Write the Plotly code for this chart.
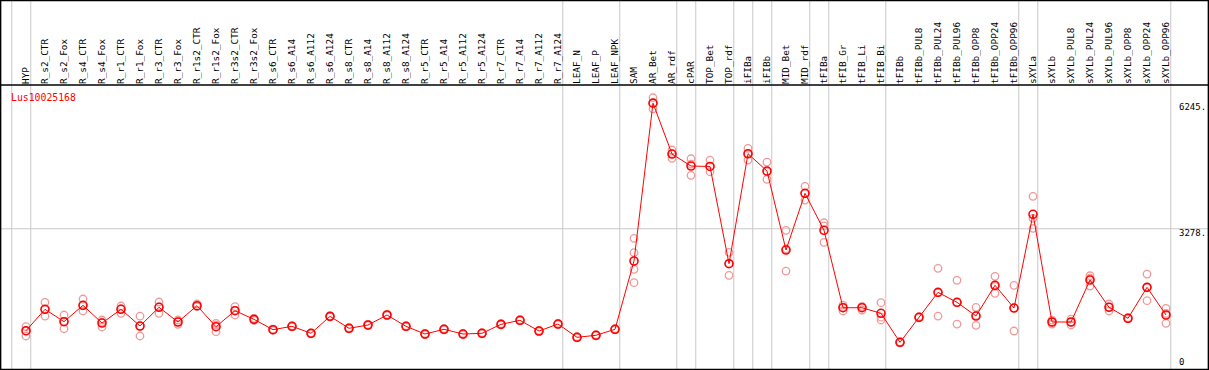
import plotly.graph_objects as go

categories = ["HYP", "R_s2_CTR", "R_s2_Fox", "R_s4_CTR", "R_s4_Fox", "R_r1_CTR", "R_r1_Fox",
              "R_r3_CTR", "R_r3_Fox", "R_r1s2_CTR", "R_r1s2_Fox", "R_r3s2_CTR", "R_r3s2_Fox",
              "R_s6_CTR", "R_s6_A14", "R_s6_A112", "R_s6_A124", "R_s8_CTR", "R_s8_A14", "R_s8_A112",
              "R_s8_A124", "R_r5_CTR", "R_r5_A14", "R_r5_A112", "R_r5_A124", "R_r7_CTR", "R_r7_A14",
              "R_r7_A112", "R_r7_A124", "LEAF_N", "LEAF_P", "LEAF_NPK", "SAM", "AR_Bet", "AR_rdf",
              "cPAR", "TOP_Bet", "TOP_rdf", "iFIBa", "iFIBb", "MID_Bet", "MID_rdf", "tFIBa", "tFIB_Gr",
              "tFIB_Li", "tFIB_Bi", "tFIBb", "tFIBb_PUL8", "tFIBb_PUL24", "tFIBb_PUL96", "tFIBb_OPP8",
              "tFIBb_OPP24", "tFIBb_OPP96", "sXYLa", "sXYLb", "sXYLb_PUL8", "sXYLb_PUL24",
              "sXYLb_PUL96", "sXYLb_OPP8", "sXYLb_OPP24", "sXYLb_OPP96"]

mean_values = [869, 1375, 1082, 1469, 1051, 1375, 980, 1422, 1075, 1460, 964, 1342, 1138,
               893, 973, 808, 1209, 926, 1004, 1240, 973, 791, 902, 791, 808, 1020, 1115, 862, 1027,
               713, 761, 902, 2516, 6245, 5043, 4759, 4750, 2452, 5050, 4641, 2775, 4115, 3241,
               1412, 1412, 1280, 595, 1186, 1776, 1540, 1216, 1942, 1405,
               3619, 1075, 1075, 2067, 1422, 1162, 1894, 1240]

replicates = [
    [964, 862, 744], [1540, 1216, 1370], [1240, 916, 1090], [1618, 1335, 1460], [1122, 957, 1070],
    [1453, 1280, 1390], [1216, 744, 980], [1547, 1280, 1430], [1122, 1020, 1080], [1500, 1436, 1450],
    [1044, 846, 1000], [1436, 1240, 1350], [1162, 1115, 1140],
    [880, 905, 893], [960, 985, 973], [795, 820, 808], [1195, 1222, 1209], [912, 940, 926],
    [990, 1018, 1004], [1226, 1254, 1240], [960, 986, 973], [778, 804, 791], [888, 915, 902],
    [778, 804, 791], [795, 821, 808], [1006, 1034, 1020], [1101, 1129, 1115], [848, 876, 862],
    [1013, 1041, 1027], [700, 726, 713], [748, 774, 761], [888, 916, 902],
    [3052, 2712, 2319, 2003], [6373, 6250, 6112], [5138, 4941, 5050], [4932, 4540, 4805],
    [4901, 4625, 4750], [2721, 2178, 2457], [5177, 4901, 5050], [4854, 4445, 4625],
    [3241, 2279, 2805], [4280, 3956, 4110], [3420, 2957, 3346],
    [1476, 1335, 1425], [1358, 1440, 1438], [1531, 1122, 1190], [580, 595, 610],
    [1172, 1200, 1186], [2343, 1216, 1770], [2060, 1027, 1533], [1422, 997, 1230],
    [2154, 1753, 1920], [1942, 862, 1410],
    [4044, 3288, 3525], [1027, 1075, 1120], [1004, 1075, 1145], [2168, 1925, 2108],
    [1500, 1335, 1430], [1148, 1176, 1162], [2208, 1578, 1896], [1398, 1044, 1278],
]

group_edges = [-1, 0, 28, 31, 34, 35, 37, 38, 39, 41, 42, 45, 52, 53, 60]
y_labels = ["6245.", "3278.", "0"]
y_label_vals = [6245, 3278, 0]
gene = "Lus10025168"

W, H = 1209, 370
TOP = 85
xi = list(range(len(categories)))
x_lo, x_hi = -26 / 19, (W - 26) / 19
y_lo, y_hi = -59, 6674

fig = go.Figure()

rx, ry = [], []
for i, reps in enumerate(replicates):
    for v in reps:
        rx.append(i)
        ry.append(v)

fig.add_trace(go.Scatter(x=rx, y=ry, mode="markers",
                         marker=dict(symbol="circle-open", size=7.5, color="#ef9a9a",
                                     line=dict(width=1.3, color="#ef9a9a")),
                         hoverinfo="skip", showlegend=False))
fig.add_trace(go.Scatter(x=xi, y=mean_values, mode="lines+markers",
                         line=dict(color="#ff0000", width=1),
                         marker=dict(symbol="circle-open", size=8, color="#ff0000",
                                     line=dict(width=1.6, color="#ff0000")),
                         showlegend=False))

shapes = []
ytop_paper = 1 + TOP / (H - TOP)
for e in group_edges:
    shapes.append(dict(type="line", xref="x", yref="paper", x0=e + 0.25, x1=e + 0.25,
                       y0=0, y1=ytop_paper, line=dict(color="#c8c8c8", width=1), layer="below"))
shapes.append(dict(type="line", xref="paper", yref="y", x0=0, x1=1, y0=3278, y1=3278,
                   line=dict(color="#c8c8c8", width=1), layer="below"))
shapes.append(dict(type="line", xref="paper", yref="paper", x0=0, x1=1, y0=1, y1=1,
                   line=dict(color="black", width=1.5)))
shapes.append(dict(type="rect", xref="paper", yref="paper", x0=0.6 / W, x1=1 - 0.6 / W,
                   y0=0.6 / (H - TOP), y1=ytop_paper - 0.6 / (H - TOP),
                   line=dict(color="black", width=1.5)))

annotations = [dict(text=gene, xref="paper", yref="paper", x=9 / W, y=(H - 97) / (H - TOP),
                    xanchor="left", yanchor="middle", showarrow=False,
                    font=dict(family="DejaVu Sans Mono", size=9.8, color="#ff0000"))]
for lab, v in zip(y_labels, y_label_vals):
    if v > 0:
        yy, ys = v, -4
    else:
        yy, ys = 137, 0
    annotations.append(dict(text=lab, xref="paper", yref="y", x=1177 / W, y=yy, yshift=ys,
                            xanchor="left", yanchor="middle", showarrow=False,
                            font=dict(family="DejaVu Sans Mono", size=9, color="black")))

fig.update_layout(
    width=W, height=H,
    margin=dict(l=0, r=0, t=TOP, b=0),
    paper_bgcolor="white", plot_bgcolor="white",
    xaxis=dict(range=[x_lo, x_hi], side="top", tickmode="array", tickvals=xi,
               ticktext=categories, tickangle=-90, showgrid=False, zeroline=False,
               showline=False, ticks="", ticklen=0,
               tickfont=dict(family="DejaVu Sans Mono", size=9.4, color="black")),
    yaxis=dict(range=[y_lo, y_hi], showgrid=False, zeroline=False, showticklabels=False,
               showline=False),
    shapes=shapes, annotations=annotations,
)

fig.write_html("out.html", config={"displayModeBar": False},
               post_script="document.body.style.margin='0';document.body.style.padding='0';"
                           "document.body.style.overflow='hidden';")
